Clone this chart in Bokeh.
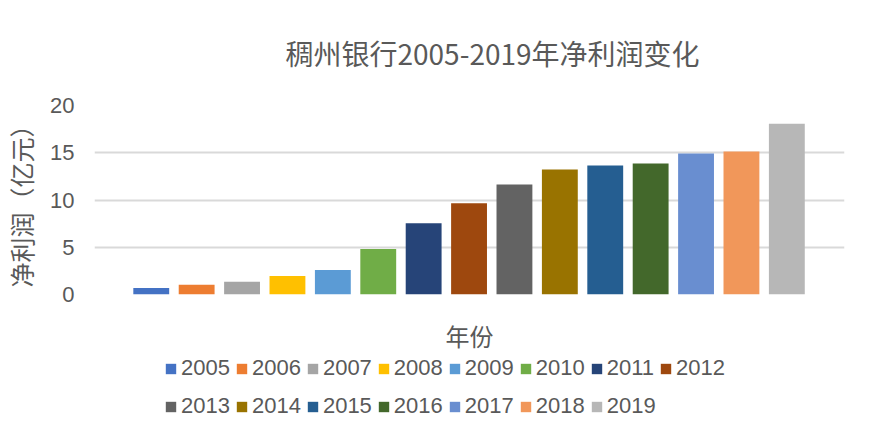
from bokeh.plotting import figure
from bokeh.layouts import column
from bokeh.models import (Range1d, FixedTicker, Legend, LegendItem,
                          ColumnDataSource)
from bokeh.embed import file_html
from bokeh.resources import INLINE

# ---- data ----
years = ["2005", "2006", "2007", "2008", "2009", "2010", "2011", "2012",
         "2013", "2014", "2015", "2016", "2017", "2018", "2019"]
profits = [0.70, 1.02, 1.34, 1.97, 2.60, 4.81, 7.55, 9.66,
           11.65, 13.23, 13.65, 13.86, 14.92, 15.13, 18.08]
colors = ["#4472C4", "#ED7D31", "#A5A5A5", "#FFC000", "#5B9BD5", "#70AD47",
          "#264478", "#9E480E", "#636363", "#997300", "#255E91", "#43682B",
          "#698ED0", "#F1975A", "#B7B7B7"]
y_ticks = [0, 5, 10, 15, 20]

title_text = "稠州银行2005-2019年净利润变化"
y_title = "净利润（亿元）"
x_title = "年份"

CJK = "Noto Sans CJK SC"
LAT = "Liberation Sans"
TXT = "#595959"
GRID = "#D9D9D9"

source = ColumnDataSource(dict(x=list(range(len(years))), top=profits,
                               color=colors, year=years))
x_lo, x_hi = -1.25, len(years) - 1 + 1.27

# ---------------- main chart ----------------
p = figure(width=864, height=355, output_backend="svg", toolbar_location=None,
           x_range=Range1d(x_lo, x_hi), y_range=Range1d(0, 20),
           min_border_left=90, min_border_right=20,
           min_border_top=105, min_border_bottom=60,
           background_fill_color="white", border_fill_color="white")
p.outline_line_color = None

p.title.text = title_text
p.title.text_font = CJK
p.title.text_font_size = "28px"
p.title.text_font_style = "normal"
p.title.text_color = TXT
p.title.align = "left"
p.title.offset = 191
p.title.vertical_align = "top"
p.title.standoff = 62

r = p.vbar(x="x", top="top", width=0.79, color="color", line_color=None,
           source=source)

p.yaxis.ticker = FixedTicker(ticks=y_ticks)
p.yaxis.axis_line_color = None
p.yaxis.major_tick_line_color = None
p.yaxis.minor_tick_line_color = None
p.yaxis.major_tick_out = 0
p.yaxis.major_tick_in = 0
p.yaxis.major_label_standoff = 20
p.yaxis.major_label_text_font = LAT
p.yaxis.major_label_text_font_size = "22px"
p.yaxis.major_label_text_color = TXT
p.yaxis.axis_label = y_title
p.yaxis.axis_label_text_font = CJK
p.yaxis.axis_label_text_font_size = "25px"
p.yaxis.axis_label_text_font_style = "normal"
p.yaxis.axis_label_text_color = TXT
p.yaxis.axis_label_standoff = 8

p.xaxis.ticker = FixedTicker(ticks=[])
p.xaxis.axis_line_color = None
p.xaxis.major_tick_line_color = None
p.xaxis.minor_tick_line_color = None
p.xaxis.major_tick_out = 0
p.xaxis.major_label_standoff = 0
p.xaxis.axis_label = x_title
p.xaxis.axis_label_text_font = CJK
p.xaxis.axis_label_text_font_size = "24px"
p.xaxis.axis_label_text_font_style = "normal"
p.xaxis.axis_label_text_color = TXT
p.xaxis.axis_label_standoff = 23

p.xgrid.grid_line_color = None
p.ygrid.grid_line_color = GRID
p.ygrid.grid_line_width = 2

# ---------------- legend strip ----------------
q = figure(width=864, height=69, output_backend="svg", toolbar_location=None,
           x_range=Range1d(x_lo, x_hi), y_range=Range1d(100, 200),
           x_axis_location=None, y_axis_location=None,
           min_border=0, min_border_left=0, min_border_right=0,
           min_border_top=0, min_border_bottom=0,
           background_fill_color="white", border_fill_color="white")
q.outline_line_color = None
q.grid.visible = False
rq = q.vbar(x="x", top="top", width=0.79, color="color", line_color=None,
            source=source)

rows = [(0, 8, 43), (8, 15, 4.7)]
for a, b, ly in rows:
    items = [LegendItem(label=years[i], renderers=[rq], index=i) for i in range(a, b)]
    lg = Legend(items=items, orientation="horizontal", location=(70, ly),
                glyph_width=13, glyph_height=13, label_standoff=4, spacing=5,
                padding=0, margin=0, border_line_color=None,
                background_fill_alpha=0, label_text_font=LAT,
                label_text_font_size="22px", label_text_color=TXT)
    q.add_layout(lg)

layout = column(p, q, spacing=0)
open("out.html", "w").write(file_html(layout, INLINE))
